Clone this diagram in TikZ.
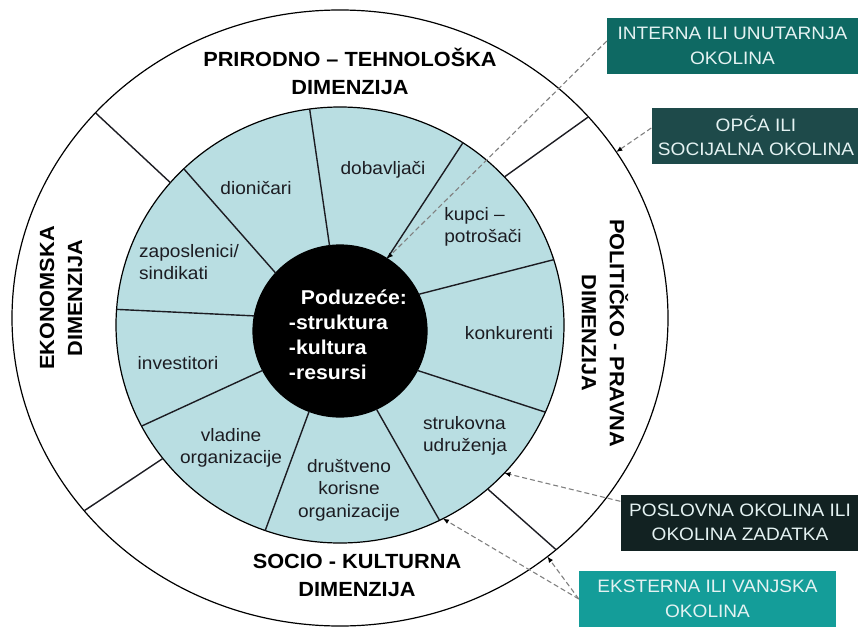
\documentclass[tikz,border=0pt]{standalone}
\usepackage{fontspec}
\setmainfont{Liberation Sans}[FakeStretch=1.06]
\usetikzlibrary{shapes.geometric,arrows.meta}
\definecolor{ringblue}{RGB}{185,222,226}
\definecolor{labelcol}{RGB}{28,28,34}
\definecolor{internacol}{RGB}{14,105,99}
\definecolor{opcacol}{RGB}{30,74,74}
\definecolor{poslovnacol}{RGB}{18,34,34}
\definecolor{eksternacol}{RGB}{20,157,153}
\definecolor{boxtext}{RGB}{228,242,242}
\begin{document}
\begin{tikzpicture}[x=1pt,y=-1pt,
    ring/.style={ellipse, draw, line width=1.2pt, inner sep=0pt, outer sep=0pt},
    spoke/.style={line width=1.4pt, draw=labelcol},
    lbl/.style={font=\fontsize{18}{22.5}\selectfont, text=labelcol, align=center, inner sep=0pt},
    dim/.style={font=\bfseries\fontsize{20.5}{28}\selectfont, align=center, inner sep=0pt},
    envbox/.style={font=\fontsize{18}{24.5}\selectfont, text=boxtext, align=center, minimum height=56pt, inner sep=0pt},
    pointer/.style={draw=gray, line width=1.1pt, dash pattern=on 5pt off 3pt, -{Latex[length=6pt,width=5pt,color=black]}}]
    \useasboundingbox (0,0) rectangle (858,631);
    % Define the three rings
    \node[ring, minimum width=656pt, minimum height=616pt] (outer) at (340,318) {};
    \node[ring, fill=ringblue, minimum width=448pt, minimum height=436pt] (mid) at (340,325) {};
    \node[ring, fill=black, minimum width=174pt, minimum height=172pt] (core) at (340,331) {};
    % Draw spokes of the inner ring
    \draw[spoke] (mid.98) -- (core.97); \draw[spoke] (mid.135) -- (core.138);
    \draw[spoke] (mid.176) -- (core.170); \draw[spoke] (mid.207) -- (core.207);
    \draw[spoke] (mid.250.5) -- (core.249.5); \draw[spoke] (mid.297.5) -- (core.295);
    \draw[spoke] (mid.337) -- (core.333); \draw[spoke] (mid.17) -- (core.25);
    \draw[spoke] (mid.56) -- (core.57.5);
    % Draw spokes of the outer ring
    \draw[spoke] (mid.140) -- (outer.140); \draw[spoke] (mid.217.5) -- (outer.217.3);
    \draw[spoke] (mid.42) -- (outer.39.5); \draw[spoke] (mid.312.6) -- (outer.313.5);
    % Stakeholders
    \node[lbl] (dionicari) at (256,188) {dioničari};
    \node[lbl] (dobavljaci) at (383,170) {dobavljači};
    \node[lbl, align=left] (kupci) at (483,227) {kupci –\\potrošači};
    \node[lbl] (konkurenti) at (509,333) {konkurenti};
    \node[lbl, align=left] (strukovna) at (465,436) {strukovna\\udruženja};
    \node[lbl] (drustveno) at (349,490) {društveno\\korisne\\organizacije};
    \node[lbl] (vladine) at (231,448) {vladine\\organizacije};
    \node[lbl] (investitori) at (178,363) {investitori};
    \node[lbl, align=left] (zaposlenici) at (189,262) {zaposlenici/\\sindikati};
    \node[inner sep=0pt, align=left, text=white, font=\bfseries\fontsize{20}{25}\selectfont] (poduzece) at (348,335)
        {\hspace*{12pt}Poduzeće:\\-struktura\\-kultura\\-resursi};
    % Dimensions
    \node[dim] (prirodna) at (350,71) {PRIRODNO – TEHNOLOŠKA\\DIMENZIJA};
    \node[dim] (socio) at (357,575) {SOCIO - KULTURNA\\DIMENZIJA};
    \node[dim, rotate=90] (ekonomska) at (61,298) {EKONOMSKA\\DIMENZIJA};
    \node[dim, rotate=-90] (politicka) at (605,333) {POLITIČKO - PRAVNA\\DIMENZIJA};
    % Environment boxes
    \node[envbox, fill=internacol, minimum width=251pt] (interna) at (732.5,46) {INTERNA ILI UNUTARNJA\\OKOLINA};
    \node[envbox, fill=opcacol, minimum width=209pt] (opca) at (756,136) {OPĆA ILI\\SOCIJALNA OKOLINA};
    \node[envbox, fill=poslovnacol, minimum width=239pt] (poslovna) at (740,522.5) {POSLOVNA OKOLINA ILI\\OKOLINA ZADATKA};
    \node[envbox, fill=eksternacol, minimum width=257pt] (eksterna) at (707.5,599) {EKSTERNA ILI VANJSKA\\OKOLINA};
    % Dashed pointers
    \draw[pointer] ([yshift=5pt]interna.west) -- (core.57.5);
    \draw[pointer] ([yshift=8pt]opca.west) -- (outer.31.4);
    \draw[pointer] ([yshift=-7pt]poslovna.north west) -- (mid.318);
    \draw[pointer] (eksterna.west) -- (outer.311.4);
    \draw[pointer] (eksterna.west) -- (mid.298);
\end{tikzpicture}
\end{document}
